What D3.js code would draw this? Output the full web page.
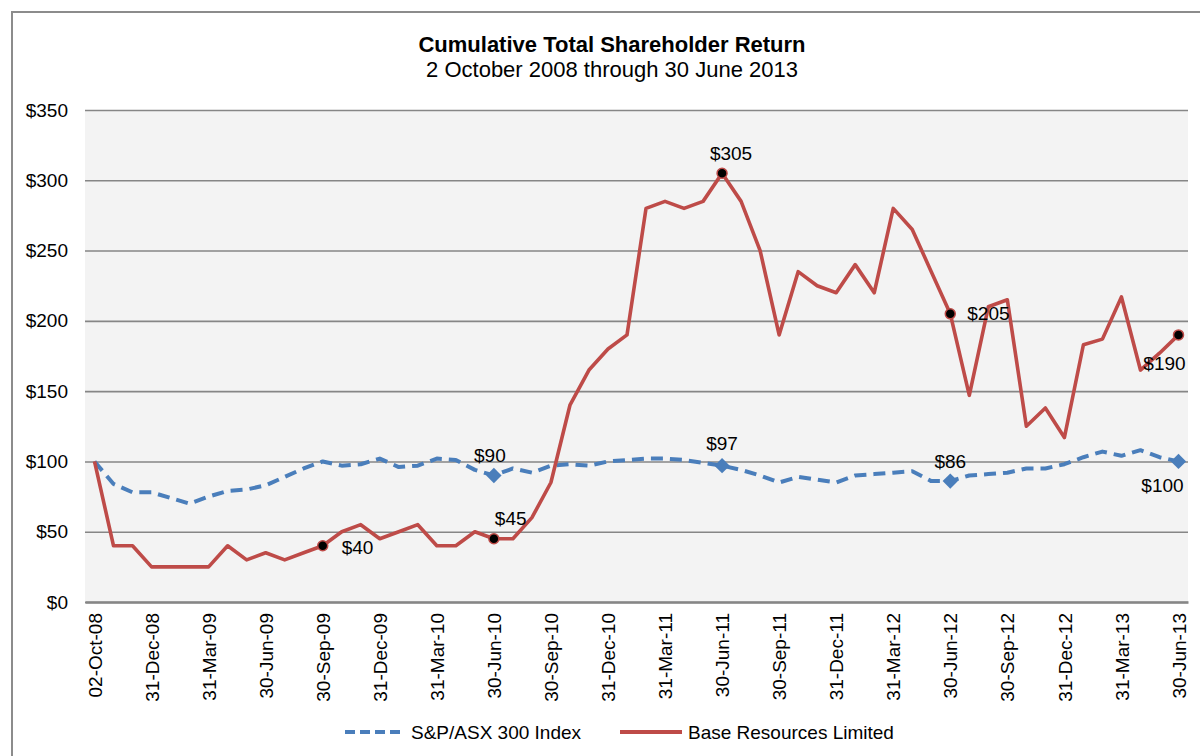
<!DOCTYPE html>
<html>
<head>
<meta charset="utf-8">
<script src="https://cdn.jsdelivr.net/npm/d3@7"></script>
<style>
  body { margin: 0; background: #fff; }
  svg text { font-family: "Liberation Sans", Arial, sans-serif; fill: #000; }
</style>
</head>
<body>
<div id="chart"></div>
<script>
// month-end dates (only every third one is labelled on the axis)
const dates = [
  "02-Oct-08", "31-Oct-08", "30-Nov-08", "31-Dec-08", "31-Jan-09", "28-Feb-09", "31-Mar-09", "30-Apr-09",
  "31-May-09", "30-Jun-09", "31-Jul-09", "31-Aug-09", "30-Sep-09", "31-Oct-09", "30-Nov-09", "31-Dec-09",
  "31-Jan-10", "28-Feb-10", "31-Mar-10", "30-Apr-10", "31-May-10", "30-Jun-10", "31-Jul-10", "31-Aug-10",
  "30-Sep-10", "31-Oct-10", "30-Nov-10", "31-Dec-10", "31-Jan-11", "28-Feb-11", "31-Mar-11", "30-Apr-11",
  "31-May-11", "30-Jun-11", "31-Jul-11", "31-Aug-11", "30-Sep-11", "31-Oct-11", "30-Nov-11", "31-Dec-11",
  "31-Jan-12", "29-Feb-12", "31-Mar-12", "30-Apr-12", "31-May-12", "30-Jun-12", "31-Jul-12", "31-Aug-12",
  "30-Sep-12", "31-Oct-12", "30-Nov-12", "31-Dec-12", "31-Jan-13", "28-Feb-13", "31-Mar-13", "30-Apr-13",
  "31-May-13", "30-Jun-13"
];

const asx300 = [
  100, 84, 78, 78, 74, 70, 75, 79, 80, 83,
  89, 95, 100, 97, 98, 102, 96, 97, 102, 101,
  94, 90, 95, 92, 97, 98, 97, 100, 101, 102,
  102, 101, 99, 97, 94, 90, 85, 89, 87, 85,
  90, 91, 92, 93, 86, 86, 90, 91, 92, 95,
  95, 98, 103, 107, 104, 108, 103, 100
];

const baseResources = [
  100, 40, 40, 25, 25, 25, 25, 40, 30, 35,
  30, 35, 40, 50, 55, 45, 50, 55, 40, 40,
  50, 45, 45, 60, 85, 140, 165, 180, 190, 280,
  285, 280, 285, 305, 285, 250, 190, 235, 225, 220,
  240, 220, 280, 265, 235, 205, 147, 210, 215, 125,
  138, 117, 183, 187, 217, 165, 177, 190
];

const yTicks = [0, 50, 100, 150, 200, 250, 300, 350];

// points that get a marker and a value label
const asxMarked = [21, 33, 45, 57];
const baseMarked = [12, 21, 33, 45, 57];

const W = 1200, H = 756;
const plot = { left: 85, right: 1188, top: 110, bottom: 602 };

const svg = d3.select("#chart").append("svg")
  .attr("width", W)
  .attr("height", H);

// outer frame
svg.append("rect")
  .attr("x", 12).attr("y", 12)
  .attr("width", W).attr("height", H)
  .attr("fill", "#fff")
  .attr("stroke", "#8c8c8c")
  .attr("stroke-width", 2);

const x = d3.scalePoint()
  .domain(d3.range(dates.length))
  .range([plot.left, plot.right])
  .padding(0.5);

const y = d3.scaleLinear()
  .domain([0, 350])
  .range([plot.bottom, plot.top]);

// plot background
svg.append("rect")
  .attr("x", plot.left).attr("y", plot.top)
  .attr("width", plot.right - plot.left)
  .attr("height", plot.bottom - plot.top)
  .attr("fill", "#f3f3f3");

// gridlines + y labels
const yAxis = svg.append("g")
  .attr("transform", `translate(${plot.left},0)`)
  .call(d3.axisLeft(y).tickValues(yTicks).tickSize(-(plot.right - plot.left)).tickPadding(17)
    .tickFormat(d => "$" + d));
yAxis.select(".domain").remove();
yAxis.selectAll(".tick line")
  .attr("stroke", "#868686")
  .attr("stroke-width", 1.6);
yAxis.selectAll(".tick text")
  .style("font-size", "19px")
  .attr("fill", "#000");

// x axis
const xAxis = svg.append("g")
  .attr("transform", `translate(0,${plot.bottom})`)
  .call(d3.axisBottom(x)
    .tickValues(d3.range(0, dates.length, 3))
    .tickSize(0)
    .tickFormat(i => dates[i]));
xAxis.select(".domain")
  .attr("stroke", "#868686")
  .attr("stroke-width", 2.5);
xAxis.selectAll(".tick text")
  .style("font-size", "19px")
  .attr("fill", "#000")
  .attr("text-anchor", "end")
  .attr("transform", "rotate(-90)")
  .attr("x", -11)
  .attr("y", 0)
  .attr("dy", "0.35em");

const line = d3.line()
  .x((d, i) => x(i))
  .y(d => y(d));

const blue = "#4a7ebb";
const red = "#be4b48";

svg.append("path")
  .datum(asx300)
  .attr("d", line)
  .attr("fill", "none")
  .attr("stroke", blue)
  .attr("stroke-width", 4)
  .attr("stroke-dasharray", "12,7")
  .attr("stroke-linejoin", "round");

svg.append("path")
  .datum(baseResources)
  .attr("d", line)
  .attr("fill", "none")
  .attr("stroke", red)
  .attr("stroke-width", 3.6)
  .attr("stroke-linejoin", "round");

// diamond markers on the index
svg.selectAll("path.diamond")
  .data(asxMarked)
  .enter()
  .append("path")
  .attr("class", "diamond")
  .attr("d", d3.symbol().type(d3.symbolDiamond2).size(150))
  .attr("transform", i => `translate(${x(i)},${y(asx300[i])})`)
  .attr("fill", blue);

// circle markers on the company line
svg.selectAll("circle.dot")
  .data(baseMarked)
  .enter()
  .append("circle")
  .attr("class", "dot")
  .attr("cx", i => x(i))
  .attr("cy", i => y(baseResources[i]))
  .attr("r", 5)
  .attr("fill", "#000")
  .attr("stroke", red)
  .attr("stroke-width", 1.5);

// value labels, placed the way the original chart had them
const asxPlace = { 21: [-4, -20, "middle"], 33: [0, -22, "middle"], 45: [0, -20, "middle"], 57: [-16, 24, "middle"] };
const basePlace = { 12: [19, 2, "start"], 21: [1, -20, "start"], 33: [9, -20, "middle"], 45: [17, 0, "start"], 57: [-14, 28, "middle"] };

function addLabels(idx, values, place) {
  svg.selectAll(null)
    .data(idx)
    .enter()
    .append("text")
    .attr("x", i => x(i) + place[i][0])
    .attr("y", i => y(values[i]) + place[i][1])
    .attr("dy", "0.35em")
    .attr("text-anchor", i => place[i][2])
    .style("font-size", "19px")
    .text(i => "$" + values[i]);
}
addLabels(asxMarked, asx300, asxPlace);
addLabels(baseMarked, baseResources, basePlace);

// titles
svg.append("text")
  .attr("x", 612).attr("y", 52)
  .attr("text-anchor", "middle")
  .style("font-size", "22px")
  .style("font-weight", "bold")
  .text("Cumulative Total Shareholder Return");

svg.append("text")
  .attr("x", 612).attr("y", 77)
  .attr("text-anchor", "middle")
  .style("font-size", "22px")
  .text("2 October 2008 through 30 June 2013");

// legend
const legend = svg.append("g").attr("transform", "translate(0,732)");
legend.append("line")
  .attr("x1", 345).attr("x2", 402)
  .attr("stroke", blue)
  .attr("stroke-width", 4)
  .attr("stroke-dasharray", "10,5");
legend.append("text")
  .attr("x", 411).attr("dy", "0.35em")
  .style("font-size", "19px")
  .text("S&P/ASX 300 Index");
legend.append("line")
  .attr("x1", 620).attr("x2", 682)
  .attr("stroke", red)
  .attr("stroke-width", 4);
legend.append("text")
  .attr("x", 688).attr("dy", "0.35em")
  .style("font-size", "19px")
  .text("Base Resources Limited");
</script>
</body>
</html>
